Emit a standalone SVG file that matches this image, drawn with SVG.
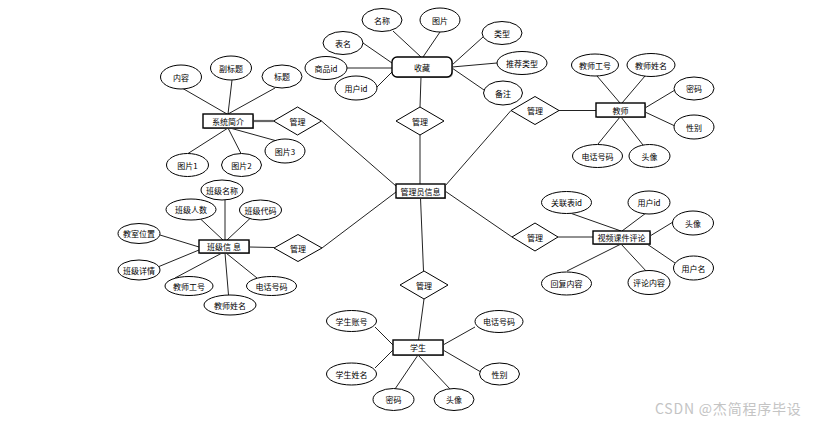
<svg xmlns="http://www.w3.org/2000/svg" width="815" height="422" viewBox="0 0 815 422">
<style>
text{font-family:"Noto Sans CJK SC","Liberation Sans",sans-serif;font-size:8px;fill:#000;text-anchor:middle;dominant-baseline:central}
.at{fill:#fff;stroke:#000;stroke-width:1}
.ent{fill:#fff;stroke:#000;stroke-width:1.4}
.sh{fill:#999;stroke:none}
.rel{fill:#fff;stroke:#000;stroke-width:1}
.c line{stroke:#222;stroke-width:1}
.wm{font-size:14px;fill:#c4c4c4;text-anchor:start;letter-spacing:0.8px}
</style>
<rect width="815" height="422" fill="#fff"/>
<g class="c" id="connectors">
<line x1="363" y1="43" x2="392" y2="63"/>
<line x1="393" y1="31" x2="421" y2="57"/>
<line x1="440" y1="32" x2="423" y2="57"/>
<line x1="483" y1="37" x2="452" y2="65"/>
<line x1="497" y1="63" x2="452" y2="67"/>
<line x1="484" y1="90" x2="452" y2="68"/>
<line x1="347" y1="68" x2="392" y2="68"/>
<line x1="376" y1="88" x2="392" y2="72"/>
<line x1="421" y1="77" x2="420" y2="107"/>
<line x1="420" y1="135" x2="420" y2="184"/>
<line x1="182" y1="88" x2="227" y2="114"/>
<line x1="232" y1="80" x2="228" y2="114"/>
<line x1="275" y1="88" x2="228" y2="114"/>
<line x1="188" y1="153.5" x2="228" y2="128"/>
<line x1="241" y1="153.5" x2="228" y2="128"/>
<line x1="277" y1="141" x2="230" y2="128"/>
<line x1="253" y1="121" x2="273.5" y2="121" style="stroke:#666;stroke-width:2.2"/>
<line x1="321.5" y1="121" x2="396" y2="186"/>
<line x1="445" y1="186" x2="511" y2="110.5"/>
<line x1="559" y1="110.5" x2="596" y2="110.5"/>
<line x1="597" y1="76" x2="620" y2="103"/>
<line x1="645" y1="76" x2="622" y2="103"/>
<line x1="675" y1="90" x2="645" y2="108"/>
<line x1="675" y1="126" x2="645" y2="112"/>
<line x1="598" y1="144" x2="620" y2="117"/>
<line x1="643" y1="145" x2="621" y2="117"/>
<line x1="225" y1="200" x2="225" y2="240"/>
<line x1="200" y1="218.5" x2="223" y2="240"/>
<line x1="250" y1="218.5" x2="227" y2="240"/>
<line x1="160" y1="235" x2="199" y2="247"/>
<line x1="159" y1="266.5" x2="199" y2="250"/>
<line x1="175" y1="278" x2="222" y2="253"/>
<line x1="228.5" y1="295" x2="225" y2="253"/>
<line x1="257" y1="278" x2="226" y2="253"/>
<line x1="249" y1="247" x2="274" y2="247.5"/>
<line x1="322" y1="248" x2="396" y2="192"/>
<line x1="445" y1="191" x2="512" y2="237"/>
<line x1="558" y1="237" x2="593" y2="237"/>
<line x1="570" y1="213" x2="621" y2="231"/>
<line x1="646" y1="213" x2="622" y2="231"/>
<line x1="673" y1="222" x2="650" y2="236"/>
<line x1="675" y1="263" x2="647" y2="244"/>
<line x1="567" y1="271" x2="621" y2="244"/>
<line x1="647" y1="272" x2="621" y2="244"/>
<line x1="420.5" y1="198" x2="423.5" y2="271"/>
<line x1="424" y1="299" x2="418.5" y2="340"/>
<line x1="375" y1="327" x2="393" y2="345"/>
<line x1="375" y1="368" x2="393" y2="350"/>
<line x1="475" y1="327" x2="443" y2="345"/>
<line x1="480" y1="371.5" x2="443" y2="350"/>
<line x1="395" y1="389" x2="418" y2="355"/>
<line x1="450" y1="389" x2="418" y2="355"/>
</g>

<g id="shoucang"><rect class="sh" x="393" y="58" width="60" height="20" rx="5"/><rect class="ent" x="392" y="57" width="60" height="20" rx="5"/><text x="422" y="67">收藏</text></g>
<g id="sc-biaoming"><ellipse class="at" cx="343" cy="43" rx="20" ry="11.5"/><text x="343" y="43">表名</text></g>
<g id="sc-mingcheng"><ellipse class="at" cx="382" cy="20" rx="20" ry="11.5"/><text x="382" y="20">名称</text></g>
<g id="sc-tupian"><ellipse class="at" cx="440" cy="20" rx="20" ry="12"/><text x="440" y="20">图片</text></g>
<g id="sc-leixing"><ellipse class="at" cx="502" cy="33" rx="20" ry="11.5"/><text x="502" y="33">类型</text></g>
<g id="sc-tuijian"><ellipse class="at" cx="522" cy="63" rx="25" ry="11.5"/><text x="522" y="63">推荐类型</text></g>
<g id="sc-beizhu"><ellipse class="at" cx="503" cy="93" rx="19.5" ry="12"/><text x="503" y="93">备注</text></g>
<g id="sc-shangpinid"><ellipse class="at" cx="326" cy="68" rx="21" ry="11.5"/><text x="326" y="68">商品id</text></g>
<g id="sc-yonghuid"><ellipse class="at" cx="356" cy="88" rx="21" ry="12"/><text x="356" y="88">用户id</text></g>

<g id="rel-top"><polygon class="rel" points="420,107 444,121 420,135 396,121"/><text x="420" y="121">管理</text></g>
<g id="admin"><rect class="sh" x="397" y="185" width="49" height="14"/><rect class="ent" x="396" y="184" width="49" height="14"/><text x="420.5" y="191">管理员信息</text></g>
<g id="rel-bottom"><polygon class="rel" points="424,271 448,285 424,299 400,285"/><text x="424" y="285">管理</text></g>
<g id="rel-teacher"><polygon class="rel" points="535,96.5 559,110.5 535,124.5 511,110.5"/><text x="535" y="110.5">管理</text></g>
<g id="rel-video"><polygon class="rel" points="535,223 558,237 535,251 512,237"/><text x="535" y="237">管理</text></g>
<g id="rel-intro"><polygon class="rel" points="297.5,107 321.5,121 297.5,135 273.5,121"/><text x="297.5" y="121">管理</text></g>
<g id="rel-class"><polygon class="rel" points="298,234.5 322,248 298,261.5 274,248"/><text x="298" y="248">管理</text></g>

<g id="intro"><rect class="sh" x="204" y="115" width="50" height="14"/><rect class="ent" x="203" y="114" width="50" height="14"/><text x="228" y="121">系统简介</text></g>
<g id="in-neirong"><ellipse class="at" cx="181" cy="77" rx="20.5" ry="12"/><text x="181" y="77">内容</text></g>
<g id="in-fubiaoti"><ellipse class="at" cx="231" cy="68" rx="20.5" ry="12"/><text x="231" y="68">副标题</text></g>
<g id="in-biaoti"><ellipse class="at" cx="282" cy="76.5" rx="20" ry="11.5"/><text x="282" y="76.5">标题</text></g>
<g id="in-tupian1"><ellipse class="at" cx="187.5" cy="165" rx="21" ry="11.5"/><text x="187.5" y="165">图片1</text></g>
<g id="in-tupian2"><ellipse class="at" cx="241.5" cy="165" rx="20" ry="11.5"/><text x="241.5" y="165">图片2</text></g>
<g id="in-tupian3"><ellipse class="at" cx="285" cy="151" rx="20" ry="12"/><text x="285" y="151">图片3</text></g>

<g id="teacher"><rect class="sh" x="597" y="104" width="49" height="14"/><rect class="ent" x="596" y="103" width="49" height="14"/><text x="620.5" y="110">教师</text></g>
<g id="t-gonghao"><ellipse class="at" cx="595" cy="65" rx="23.5" ry="11"/><text x="595" y="65">教师工号</text></g>
<g id="t-xingming"><ellipse class="at" cx="651" cy="65" rx="24" ry="11.5"/><text x="651" y="65">教师姓名</text></g>
<g id="t-mima"><ellipse class="at" cx="694" cy="88.5" rx="20" ry="11.5"/><text x="694" y="88.5">密码</text></g>
<g id="t-xingbie"><ellipse class="at" cx="694" cy="127" rx="20" ry="12"/><text x="694" y="127">性别</text></g>
<g id="t-dianhua"><ellipse class="at" cx="597.5" cy="156" rx="25" ry="11.5"/><text x="597.5" y="156">电话号码</text></g>
<g id="t-touxiang"><ellipse class="at" cx="649.5" cy="156" rx="20.5" ry="11.5"/><text x="649.5" y="156">头像</text></g>

<g id="classinfo"><rect class="sh" x="200" y="241" width="50" height="13"/><rect class="ent" x="199" y="240" width="50" height="13"/><text x="224" y="246.5">班级信 息</text></g>
<g id="c-mingcheng"><ellipse class="at" cx="222" cy="190" rx="21" ry="10"/><text x="222" y="190">班级名称</text></g>
<g id="c-renshu"><ellipse class="at" cx="191" cy="209.5" rx="25" ry="10.5"/><text x="191" y="209.5">班级人数</text></g>
<g id="c-daima"><ellipse class="at" cx="260.5" cy="210" rx="21" ry="10"/><text x="260.5" y="210">班级代码</text></g>
<g id="c-weizhi"><ellipse class="at" cx="139" cy="233.5" rx="21" ry="10"/><text x="139" y="233.5">教室位置</text></g>
<g id="c-xiangqing"><ellipse class="at" cx="139" cy="270" rx="21" ry="10"/><text x="139" y="270">班级详情</text></g>
<g id="c-gonghao"><ellipse class="at" cx="189" cy="286" rx="24" ry="9.5"/><text x="189" y="286">教师工号</text></g>
<g id="c-xingming"><ellipse class="at" cx="230" cy="305" rx="26" ry="10"/><text x="230" y="305">教师姓名</text></g>
<g id="c-dianhua"><ellipse class="at" cx="271.5" cy="286" rx="25" ry="9.5"/><text x="271.5" y="286">电话号码</text></g>

<g id="video"><rect class="sh" x="594" y="232" width="57" height="13"/><rect class="ent" x="593" y="231" width="57" height="13"/><text x="621.5" y="237.5">视频课件评论</text></g>
<g id="v-guanlian"><ellipse class="at" cx="566.5" cy="202.5" rx="25" ry="11"/><text x="566.5" y="202.5">关联表id</text></g>
<g id="v-yonghuid"><ellipse class="at" cx="649" cy="202.5" rx="21" ry="11.5"/><text x="649" y="202.5">用户id</text></g>
<g id="v-touxiang"><ellipse class="at" cx="693" cy="223" rx="20.5" ry="12"/><text x="693" y="223">头像</text></g>
<g id="v-yonghuming"><ellipse class="at" cx="693.5" cy="268" rx="20" ry="12"/><text x="693.5" y="268">用户名</text></g>
<g id="v-huifu"><ellipse class="at" cx="566.5" cy="283.5" rx="25" ry="11.5"/><text x="566.5" y="283.5">回复内容</text></g>
<g id="v-pinglun"><ellipse class="at" cx="649" cy="282.5" rx="21" ry="12"/><text x="649" y="282.5">评论内容</text></g>

<g id="student"><rect class="sh" x="394" y="341" width="50" height="15"/><rect class="ent" x="393" y="340" width="50" height="15"/><text x="418" y="347.5">学生</text></g>
<g id="s-zhanghao"><ellipse class="at" cx="351.5" cy="321" rx="25" ry="10.5"/><text x="351.5" y="321">学生账号</text></g>
<g id="s-xingming"><ellipse class="at" cx="351.5" cy="374" rx="25" ry="11"/><text x="351.5" y="374">学生姓名</text></g>
<g id="s-dianhua"><ellipse class="at" cx="499" cy="321.5" rx="24" ry="11"/><text x="499" y="321.5">电话号码</text></g>
<g id="s-xingbie"><ellipse class="at" cx="499.5" cy="374" rx="20" ry="11"/><text x="499.5" y="374">性别</text></g>
<g id="s-mima"><ellipse class="at" cx="393.5" cy="399.5" rx="20.5" ry="11"/><text x="393.5" y="399.5">密码</text></g>
<g id="s-touxiang"><ellipse class="at" cx="454" cy="399.5" rx="20" ry="11"/><text x="454" y="399.5">头像</text></g>

<text class="wm" x="655" y="408">CSDN @杰简程序毕设</text>
</svg>
